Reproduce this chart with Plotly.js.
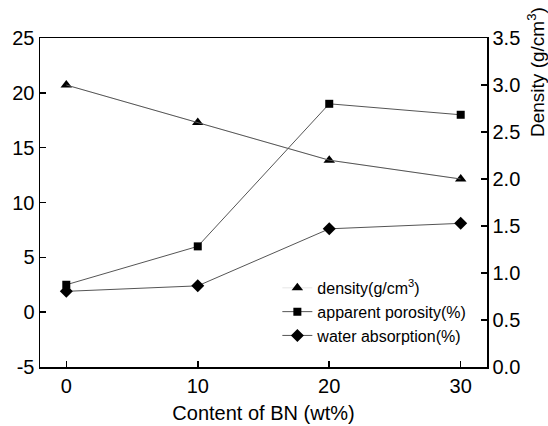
<!DOCTYPE html>
<html>
<head>
<meta charset="utf-8">
<script src="https://cdn.plot.ly/plotly-3.0.1.min.js"></script>
<style>html,body{margin:0;padding:0;background:#fff;}#chart{width:548px;height:426px;}</style>
</head>
<body>
<div id="chart"></div>
<script>
const bnContent = [0, 10, 20, 30];
const density = [3.0, 2.6, 2.2, 2.0];
const apparentPorosity = [2.5, 6.0, 19.0, 18.0];
const waterAbsorption = [1.9, 2.4, 7.6, 8.1];
const leftTicks = [-5, 0, 5, 10, 15, 20, 25];
const leftTickText = ['-5', '0', '5', '10', '15', '20', '25'];
const rightTicks = [0, 0.5, 1.0, 1.5, 2.0, 2.5, 3.0, 3.5];
const xTicks = [0, 10, 20, 30];

const font = 'Liberation Sans, Arial, sans-serif';
const lineStyle = {color: '#555555', width: 1};

const traces = [
  {x: bnContent, y: density, yaxis: 'y2', name: 'density(g/cm<sup>3</sup>)', mode: 'lines+markers',
   line: {color: '#e6e6e6', width: 1}, marker: {symbol: 'triangle-up', size: 10, color: '#000'}},
  {x: bnContent, y: density, yaxis: 'y2', mode: 'lines', line: lineStyle, showlegend: false, hoverinfo: 'skip'},
  {x: bnContent, y: apparentPorosity, name: 'apparent porosity(%)', mode: 'lines+markers',
   line: lineStyle, marker: {symbol: 'square', size: 8, color: '#000'}},
  {x: bnContent, y: waterAbsorption, name: 'water absorption(%)', mode: 'lines+markers',
   line: lineStyle, marker: {symbol: 'diamond', size: 10, color: '#000'}}
];

const layout = {
  width: 548, height: 426,
  margin: {l: 40, r: 61, t: 38, b: 59},
  paper_bgcolor: '#fff', plot_bgcolor: '#fff',
  font: {family: font, size: 20, color: '#000'},
  showlegend: true,
  legend: {x: 0.531, y: 0.292, xanchor: 'left', yanchor: 'top', bgcolor: 'rgba(0,0,0,0)',
           font: {family: font, size: 16, color: '#000'}, tracegroupgap: 0},
  xaxis: {range: [-2, 32], tickvals: xTicks, ticks: 'inside', ticklen: 6, tickwidth: 1.5, tickcolor: '#000',
          showline: true, linecolor: '#000', linewidth: 1.5, mirror: true, showgrid: false, zeroline: false,
          title: {text: 'Content of BN (wt%)', font: {family: font, size: 20}, standoff: 10},
          tickfont: {family: font, size: 20}},
  yaxis: {range: [-5, 25], tickvals: leftTicks, ticktext: leftTickText, ticks: 'inside', ticklen: 6, tickwidth: 1.5, tickcolor: '#000',
          showline: true, linecolor: '#000', linewidth: 1.5, showgrid: false, zeroline: false,
          tickfont: {family: font, size: 20}},
  yaxis2: {range: [0, 3.5], tickvals: rightTicks, tickformat: '.1f', overlaying: 'y', side: 'right',
           ticks: 'inside', ticklen: 6, tickwidth: 1.5, tickcolor: '#000',
           showline: true, linecolor: '#000', linewidth: 1.5, showgrid: false, zeroline: false,
           tickfont: {family: font, size: 20}},
  annotations: [{
    text: 'Density (g/cm<sup>3</sup>)', textangle: -90, showarrow: false,
    xref: 'paper', yref: 'paper', x: 1, y: 1, xanchor: 'center', yanchor: 'top',
    xshift: 49, yshift: 33, font: {family: font, size: 19, color: '#000'}
  }]
};

Plotly.newPlot('chart', traces, layout, {displayModeBar: false, staticPlot: true});
</script>
</body>
</html>
